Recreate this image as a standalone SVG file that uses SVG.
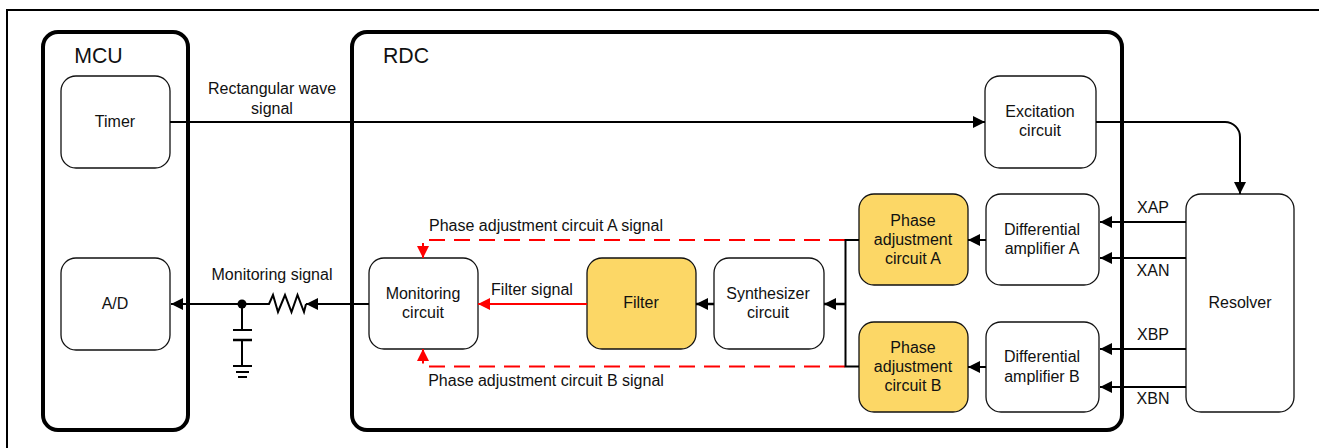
<svg xmlns="http://www.w3.org/2000/svg" width="1319" height="448" viewBox="0 0 1319 448">
<style>
text{font-family:"Liberation Sans",Arial,sans-serif;font-size:16px;fill:#111;text-anchor:middle}
.big{font-size:21.300px}
.box{fill:#fff;stroke:#111;stroke-width:1.3}
.hl{fill:#fcd766;stroke:#111;stroke-width:1.3}
.outer{fill:none;stroke:#000;stroke-width:4}
.w{fill:none;stroke:#000;stroke-width:2}
.t{fill:none;stroke:#000;stroke-width:2.5}
.r{fill:none;stroke:#f00;stroke-width:2}
.d{fill:none;stroke:#f00;stroke-width:2;stroke-dasharray:16 9}
</style>
<defs>
<marker id="a" markerUnits="userSpaceOnUse" markerWidth="13" markerHeight="12" refX="12" refY="6" orient="auto"><path d="M0 0L12 6L0 12Z" fill="#000"/></marker>
<marker id="ar" markerUnits="userSpaceOnUse" markerWidth="13" markerHeight="12" refX="12" refY="6" orient="auto"><path d="M0 0L12 6L0 12Z" fill="#f00"/></marker>
</defs>
<rect width="1319" height="448" fill="#fff"/>
<path id="frame" d="M7 448V10H1319" fill="none" stroke="#000" stroke-width="2"/>
<g id="mcu"><rect class="outer" x="43" y="32" width="145" height="398" rx="15"/><text class="big" x="98.500" y="63">MCU</text></g>
<g id="rdc"><rect class="outer" x="352" y="32" width="770" height="398" rx="15"/><text class="big" x="406" y="63">RDC</text></g>
<g id="timer"><rect class="box" x="61" y="76" width="109" height="92" rx="15"/><text x="115" y="127">Timer</text></g>
<g id="ad"><rect class="box" x="61" y="258" width="109" height="92" rx="15"/><text x="115" y="309">A/D</text></g>
<g id="excitation"><rect class="box" x="985" y="76" width="111" height="92" rx="15"/><text x="1040" y="117">Excitation</text><text x="1040" y="136">circuit</text></g>
<g id="resolver"><rect class="box" x="1186" y="194" width="108" height="218" rx="15"/><text x="1240" y="308">Resolver</text></g>
<g id="diffA"><rect class="box" x="986" y="194" width="113" height="91" rx="15"/><text x="1042" y="235">Differential</text><text x="1042" y="254">amplifier A</text></g>
<g id="diffB"><rect class="box" x="986" y="322" width="113" height="90" rx="15"/><text x="1042" y="362">Differential</text><text x="1042" y="382">amplifier B</text></g>
<g id="phaseA"><rect class="hl" x="859" y="194" width="109" height="91" rx="15"/><text x="913" y="226">Phase</text><text x="913" y="245">adjustment</text><text x="913" y="264">circuit A</text></g>
<g id="phaseB"><rect class="hl" x="859" y="322" width="109" height="90" rx="15"/><text x="913" y="353">Phase</text><text x="913" y="372">adjustment</text><text x="913" y="391">circuit B</text></g>
<g id="synth"><rect class="box" x="714" y="258" width="110" height="91" rx="15"/><text x="768" y="299">Synthesizer</text><text x="768" y="318">circuit</text></g>
<g id="filter"><rect class="hl" x="587" y="258" width="109" height="91" rx="15"/><text x="641" y="308">Filter</text></g>
<g id="monitoring"><rect class="box" x="369" y="258" width="109" height="91" rx="15"/><text x="423" y="299">Monitoring</text><text x="423" y="318">circuit</text></g>
<g id="connectors">
<path class="w" d="M170 122H985" marker-end="url(#a)"/>
<path class="w" d="M1096 122H1225A15 15 0 0 1 1240 137V194" marker-end="url(#a)"/>
<path class="w" d="M1186 222H1100" marker-end="url(#a)"/>
<path class="w" d="M1186 258H1100" marker-end="url(#a)"/>
<path class="w" d="M1186 349H1100" marker-end="url(#a)"/>
<path class="w" d="M1186 387H1100" marker-end="url(#a)"/>
<path class="w" d="M986 240H968" marker-end="url(#a)"/>
<path class="w" d="M986 367H968" marker-end="url(#a)"/>
<path class="d" d="M845 240H423V258" marker-end="url(#ar)"/>
<path class="d" d="M845 366.500H423V349" marker-end="url(#ar)"/>
<path class="w" d="M859 240H845.500V366.500H859"/>
<path class="t" d="M845 304H824" marker-end="url(#a)"/>
<path class="t" d="M714 304H696" marker-end="url(#a)"/>
<path class="r" d="M587 304H478" marker-end="url(#ar)"/>
<path class="w" d="M369 304H306" marker-end="url(#a)"/>
<path class="w" d="M306 304L304 312L297.500 295L291.500 312L285 295L278 312L273 295L269 304H184" />
<path class="w" d="M184 304H171" marker-end="url(#a)"/>
<circle cx="242" cy="304" r="4.500" fill="#000"/>
<path class="w" d="M242 304V330M233 330H252M242 340V366M233 366H252M236 372H249M238 377H247"/>
<path d="M233 340H252" stroke="#000" stroke-width="2.500"/>
</g>
<g id="labels">
<text x="272" y="94">Rectangular wave</text><text x="272" y="114">signal</text>
<text x="272" y="280">Monitoring signal</text>
<text x="546" y="231">Phase adjustment circuit A signal</text>
<text x="546" y="386">Phase adjustment circuit B signal</text>
<text x="532" y="295">Filter signal</text>
<text x="1153" y="213">XAP</text><text x="1153" y="276">XAN</text>
<text x="1153" y="340">XBP</text><text x="1153" y="404">XBN</text>
</g>
</svg>
